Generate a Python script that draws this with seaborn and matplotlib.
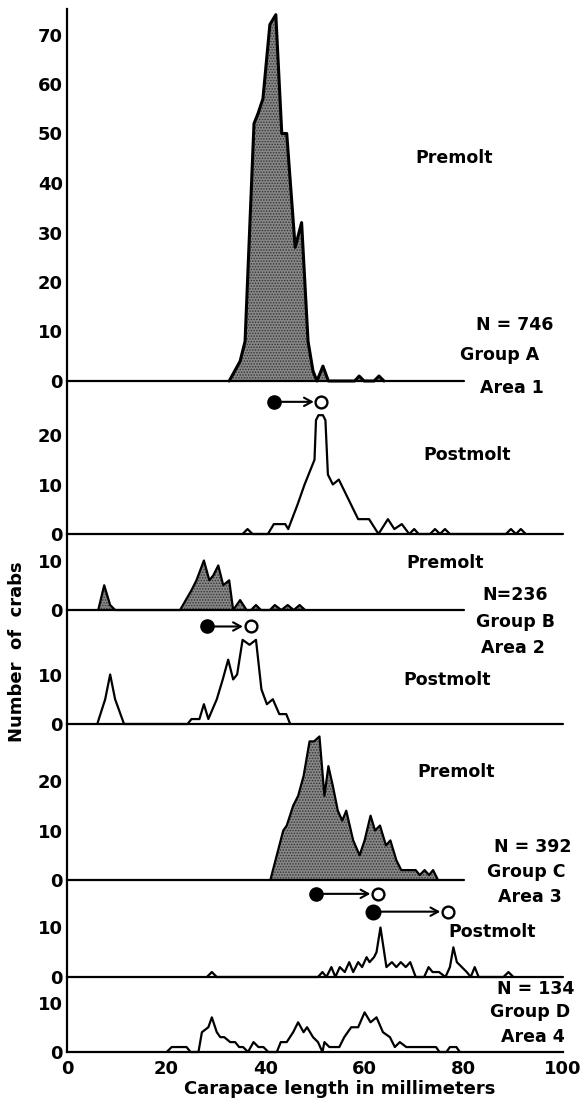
import matplotlib
matplotlib.use("Agg")
import matplotlib.pyplot as plt
import pandas as pd
import seaborn as sns

# ---------------- data: carapace length (mm) vs number of crabs ----------------
pre_a_mm = [32.7, 34.9, 35.9, 37.7, 38.5, 39.5, 40.9, 42.1, 43.3, 44.3, 46.0, 47.3,
            48.6, 49.6, 50.4, 51.6, 52.7, 58.0, 58.9, 59.9, 61.9, 62.9, 63.9]
pre_a_n = [0, 4, 8, 52, 54, 57, 72, 74, 50, 50, 27, 32, 8, 2, 0, 3, 0, 0, 1, 0, 0, 1, 0]

post_a_mm = [35.4, 36.4, 37.4, 40.5, 41.7, 44.0, 44.6, 46.5, 47.9, 49.9, 50.2, 50.7,
             51.6, 52.1, 52.6, 53.6, 54.8, 58.7, 60.9, 62.8, 64.7, 66.0, 67.5, 69.0,
             70.0, 70.9, 73.2, 74.2, 75.2, 76.2, 77.2, 88.5, 89.5, 90.5, 91.5, 92.5]
post_a_n = [0, 1, 0, 0, 2, 2, 1, 6, 10, 15, 23, 24, 24, 23, 12, 10, 11, 3, 3, 0,
            3, 1, 2, 0, 1, 0, 0, 1, 0, 1, 0, 0, 1, 0, 1, 0]

pre_b_mm = [6.3, 7.5, 8.7, 9.7, 22.8, 25.1, 26.1, 27.6, 28.7, 29.5, 30.5, 31.5, 32.7,
            33.5, 34.9, 36.2, 37.1, 38.1, 39.1, 40.9, 41.9, 43.2, 44.5, 45.7, 46.9, 48.0]
pre_b_n = [0, 5, 1, 0, 0, 4, 6, 10, 6, 7, 9, 5, 6, 0, 2, 0, 0, 1, 0, 0, 1, 0, 1, 0, 1, 0]

post_b_mm = [6.1, 7.7, 8.7, 9.7, 11.5, 24.3, 25.1, 26.7, 27.6, 28.5, 30.2, 31.4, 32.5,
             33.5, 34.3, 35.4, 36.8, 38.1, 39.2, 40.3, 41.5, 42.8, 44.2, 45.0]
post_b_n = [0, 5, 10, 5, 0, 0, 1, 1, 4, 1, 5, 9, 13, 9, 10, 17, 16, 17, 7, 4, 5, 2, 2, 0]

pre_c_mm = [41.0, 43.6, 44.3, 45.6, 46.6, 47.7, 48.9, 49.8, 50.9, 51.9, 52.7, 53.6,
            54.6, 55.5, 56.3, 57.7, 59.0, 60.0, 61.2, 62.1, 63.1, 64.3, 65.2, 66.4,
            67.4, 68.4, 69.4, 70.3, 71.1, 72.1, 73.0, 73.8, 74.8]
pre_c_n = [0, 10, 11, 15, 17, 21, 28, 28, 29, 17, 23, 19, 14, 12, 14, 8, 5, 8, 13, 10,
           11, 7, 8, 4, 2, 2, 2, 2, 1, 2, 1, 2, 0]

post_c_mm = [28.2, 29.2, 30.2, 50.6, 51.5, 52.3, 53.3, 54.1, 55.0, 56.0, 56.9, 57.7,
             58.7, 59.5, 60.4, 61.0, 61.9, 62.4, 63.2, 64.4, 65.5, 66.4, 67.3, 68.3,
             69.2, 70.3, 72.0, 72.9, 73.7, 75.0, 76.3, 77.2, 77.9, 78.6, 79.6, 80.6,
             81.4, 82.2, 83.0, 88.0, 89.0, 90.0]
post_c_n = [0, 1, 0, 0, 1, 0, 2, 0, 2, 1, 3, 1, 3, 2, 4, 3, 4, 5, 10, 2, 3, 2, 3, 2,
            3, 0, 0, 2, 1, 1, 0, 2, 6, 3, 2, 1, 0, 2, 0, 0, 1, 0]

d_mm = [20.1, 21.1, 22.8, 24.1, 24.9, 26.5, 27.2, 28.5, 29.2, 30.2, 30.9, 31.7, 32.9,
        33.9, 34.7, 35.5, 36.5, 37.6, 38.6, 39.6, 40.6, 42.3, 43.1, 44.3, 45.6, 46.6,
        47.7, 48.4, 49.6, 50.6, 51.5, 51.9, 52.9, 54.9, 55.9, 57.3, 58.7, 60.0, 61.2,
        62.4, 63.7, 65.1, 66.1, 67.1, 68.4, 69.4, 70.4, 71.4, 74.4, 75.1, 76.5, 77.2,
        78.5, 79.2]
d_n = [0, 1, 1, 1, 0, 0, 4, 5, 7, 4, 3, 3, 2, 2, 1, 1, 0, 2, 1, 1, 0, 0, 2, 2, 4, 6,
       4, 5, 3, 2, 0, 2, 1, 1, 3, 5, 5, 8, 6, 7, 4, 3, 1, 2, 1, 1, 1, 1, 1, 0, 0, 1, 1, 0]

# mean size before (filled dot) and after (open dot) the molt
shift_pre = [41.8, 28.2, 50.3, 61.6]
shift_post = [51.3, 37.0, 62.7, 76.8]

group_n = [746, 236, 392, 134]
group_names = ["A", "B", "C", "D"]

# ---------------- style ----------------
sns.set_style("white")
plt.rcParams["font.family"] = ["DejaVu Sans"]
plt.rcParams["font.weight"] = "bold"
plt.rcParams["text.color"] = "black"
plt.rcParams["hatch.color"] = "#333333"
plt.rcParams["hatch.linewidth"] = 0.7

W, H = 583, 1099
fig = plt.figure(figsize=(W / 100, H / 100), dpi=100)

X0, X1 = 67, 563          # pixel span of 0..100 mm
PX_PER_COUNT = 4.95
LW = 1.6


def add_panel(top, base, yticks, base_end):
    ax = fig.add_axes([X0 / W, 1 - base / H, (X1 - X0) / W, (base - top) / H])
    ax.set_xlim(0, 100)
    ax.set_ylim(0, (base - top) / PX_PER_COUNT)
    for s in ("top", "right", "bottom"):
        ax.spines[s].set_visible(False)
    ax.spines["left"].set_linewidth(LW)
    ax.spines["left"].set_color("black")
    ax.set_yticks(yticks)
    ax.tick_params(axis="y", direction="in", length=7, width=LW, pad=3,
                   labelsize=13, colors="black")
    ax.set_xticks([])
    ax.patch.set_alpha(0)
    if base_end is not None:
        ax.axhline(0, xmin=0, xmax=base_end / 100, color="black", lw=LW,
                   clip_on=False, zorder=3)
    return ax


def draw_curve(ax, mm, n, filled, lw=LW):
    df = pd.DataFrame({"mm": mm, "n": n})
    if filled:
        ax.fill_between(df["mm"], df["n"], 0, facecolor="#878787",
                        hatch="......", edgecolor="#333333", linewidth=0, zorder=1)
    sns.lineplot(data=df, x="mm", y="n", ax=ax, color="black", linewidth=lw,
                 estimator=None, sort=False, clip_on=False, zorder=4)
    ax.set_xlabel("")
    ax.set_ylabel("")


def draw_shift(ax, x_pre, x_post, y, dot=9.5):
    ax.plot([x_pre], [y], "o", color="black", ms=dot, clip_on=False, zorder=5)
    ax.plot([x_post], [y], "o", mfc="white", mec="black", ms=8.5, mew=1.7,
            clip_on=False, zorder=5)
    ax.annotate("", xy=(x_post, y), xytext=(x_pre, y),
                arrowprops=dict(arrowstyle="->,head_length=0.55,head_width=0.3",
                                lw=1.5, color="black", shrinkA=5, shrinkB=5.5),
                annotation_clip=False)


ax1 = add_panel(9, 381, range(0, 71, 10), 80)
draw_curve(ax1, pre_a_mm, pre_a_n, True, lw=2.2)

ax2 = add_panel(381, 534, [0, 10, 20], 100)
draw_curve(ax2, post_a_mm, post_a_n, False)
draw_shift(ax2, shift_pre[0], shift_post[0], 26.7)

ax3 = add_panel(534, 610, [0, 10], 80)
draw_curve(ax3, pre_b_mm, pre_b_n, True)

ax4 = add_panel(610, 724, [0, 10], 100)
draw_curve(ax4, post_b_mm, post_b_n, False)
draw_shift(ax4, shift_pre[1], shift_post[1], 19.7)

ax5 = add_panel(724, 880, [0, 10, 20], 80)
draw_curve(ax5, pre_c_mm, pre_c_n, True)

ax6 = add_panel(880, 977, [0, 10], 100)
draw_curve(ax6, post_c_mm, post_c_n, False)
draw_shift(ax6, shift_pre[2], shift_post[2], 16.8)
draw_shift(ax6, shift_pre[3], shift_post[3], 13.2, dot=10.5)

ax7 = add_panel(977, 1052, [0, 10], None)
draw_curve(ax7, d_mm, d_n, False)
ax7.spines["bottom"].set_visible(True)
ax7.spines["bottom"].set_linewidth(LW)
ax7.spines["bottom"].set_color("black")
ax7.set_xticks(range(0, 101, 20))
ax7.tick_params(axis="x", direction="inout", length=8, width=LW, pad=2,
                labelsize=13, colors="black")

# ---------------- labels ----------------
def label(x, y, s, size=12.5):
    fig.text(x / W, 1 - y / H, s, ha="center", va="center", fontsize=size,
             fontweight="bold", color="black")


label(454, 158, "Premolt")
label(515, 325, f"N = {group_n[0]}")
label(500, 355, f"Group {group_names[0]}")
label(512, 388, "Area 1")
label(467, 455, "Postmolt")

label(445, 563, "Premolt")
label(515, 595, f"N={group_n[1]}")
label(515, 622, f"Group {group_names[1]}")
label(513, 648, "Area 2")
label(447, 680, "Postmolt")

label(456, 772, "Premolt")
label(533, 847, f"N = {group_n[2]}")
label(526, 872, f"Group {group_names[2]}")
label(530, 897, "Area 3")
label(492, 932, "Postmolt")

label(536, 989, f"N = {group_n[3]}")
label(530, 1012, f"Group {group_names[3]}")
label(533, 1037, "Area 4")

fig.text(17 / W, 1 - 652 / H, "Number  of  crabs", rotation=90, ha="center",
         va="center", fontsize=13, fontweight="bold", color="black")
fig.text(340 / W, 1 - 1089 / H, "Carapace length in millimeters", ha="center",
         va="center", fontsize=13, fontweight="bold", color="black")

fig.savefig("out.png", dpi=100)
